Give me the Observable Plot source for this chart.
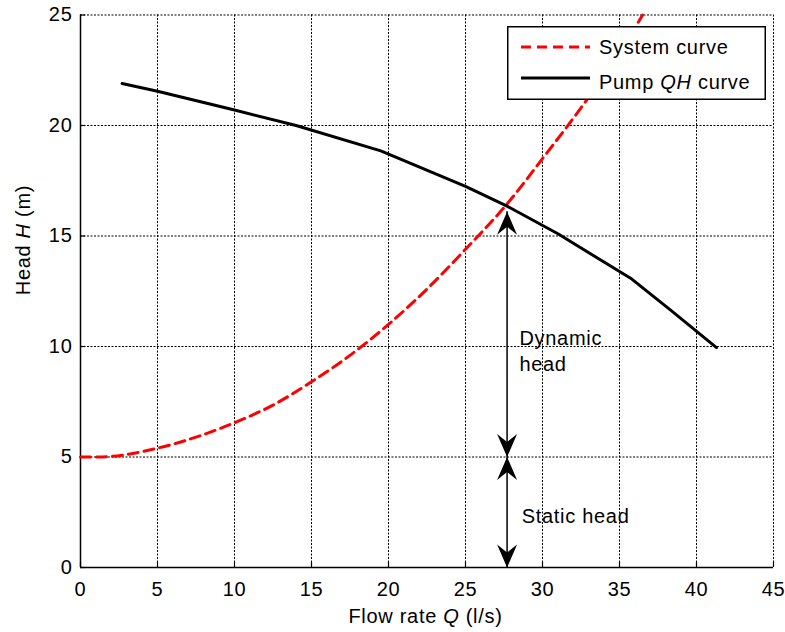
<!DOCTYPE html>
<html>
<head>
<meta charset="utf-8">
<script src="https://cdn.jsdelivr.net/npm/d3@7"></script>
<script src="https://cdn.jsdelivr.net/npm/@observablehq/plot@0.6"></script>
<style>
  body { margin: 0; background: #fff; }
  #chart { position: relative; width: 785px; height: 632px; font-family: "Liberation Sans", Arial, sans-serif; }
  #legend { position: absolute; left: 507px; top: 26px; }
</style>
</head>
<body>
<div id="chart"></div>
<script>
// Flow rate axis (l/s) and head axis (m)
const xTicks = [0, 5, 10, 15, 20, 25, 30, 35, 40, 45];
const yTicks = [0, 5, 10, 15, 20, 25];

// System curve: static head plus friction losses
const sysQ = [0, 1.2, 5, 7.5, 10, 12.5, 15, 17.5, 20, 22.5, 25, 27.7, 30, 32.5, 35, 36.5];
const sysH = [5.0, 5.0, 5.4, 5.9, 6.55, 7.35, 8.4, 9.6, 11.0, 12.6, 14.4, 16.45, 18.5, 20.8, 23.3, 25.0];

// Pump QH curve
const pumpQ = [2.7, 5, 10, 14, 19.5, 25, 27.7, 31, 35.8, 38.4, 41.3];
const pumpH = [21.9, 21.55, 20.7, 20.0, 18.85, 17.25, 16.35, 15.1, 13.05, 11.6, 9.95];

// Operating point arrows: tips and directions
const arrowQ = 27.7;
const arrowTipH = [16.1, 5, 5, 0];
const arrowRotate = [0, 180, 0, 180];

// Annotation texts
const noteText = ["Dynamic\nhead", "Static head"];
const noteQ = [28.5, 28.65];
const noteH = [9.86, 2.4];

const seriesNames = ["System curve", "Pump QH curve"];

const sysData = sysQ.map((q, i) => ({q, h: sysH[i]}));
const pumpData = pumpQ.map((q, i) => ({q, h: pumpH[i]}));
const tipData = arrowTipH.map((h, i) => ({q: arrowQ, h, r: arrowRotate[i]}));
const noteData = noteText.map((t, i) => ({t, q: noteQ[i], h: noteH[i]}));

// Notched arrowhead, tip at the origin, pointing up
const arrowHead = {
  draw(ctx) {
    ctx.moveTo(0, 0);
    ctx.lineTo(10, 23);
    ctx.lineTo(0, 15);
    ctx.lineTo(-10, 23);
    ctx.closePath();
  }
};

const W = 785, H = 632;
const mT = 14.5, mR = 12, mB = 65, mL = 80;
const innerW = W - mL - mR, innerH = H - mT - mB;

const svg = Plot.plot({
  width: W, height: H,
  marginTop: mT, marginRight: mR, marginBottom: mB, marginLeft: mL,
  style: {fontFamily: '"Liberation Sans", Arial, sans-serif', fontSize: "20px", letterSpacing: "0.7px", background: "#fff", color: "#000", overflow: "visible"},
  x: {domain: [0, 45]},
  y: {domain: [0, 25]},
  marks: [
    Plot.gridX(xTicks, {stroke: "#000", strokeOpacity: 1, strokeWidth: 1, strokeDasharray: "2,1.5"}),
    Plot.gridY(yTicks, {stroke: "#000", strokeOpacity: 1, strokeWidth: 1, strokeDasharray: "2,1.5"}),
    Plot.ruleX(xTicks, {stroke: "#000", strokeWidth: 1.2, insetTop: innerH - 5}),
    Plot.ruleY(yTicks, {stroke: "#000", strokeWidth: 1.2, insetRight: innerW - 5}),
    Plot.ruleX([0], {stroke: "#000", strokeWidth: 1.5}),
    Plot.ruleY([0], {stroke: "#000", strokeWidth: 1.5}),
    Plot.axisX(xTicks, {tickSize: 0, tickPadding: 14, fontSize: 20, label: null}),
    Plot.axisY(yTicks, {tickSize: 0, tickPadding: 8, fontSize: 20, label: null}),
    Plot.line(sysData, {x: "q", y: "h", stroke: "#ff0000", strokeWidth: 3, strokeDasharray: "10,6", curve: "monotone-x"}),
    Plot.line(pumpData, {x: "q", y: "h", stroke: "#000", strokeWidth: 3}),
    Plot.ruleX([arrowQ], {y1: 0, y2: arrowTipH[0], stroke: "#000", strokeWidth: 1.5}),
    Plot.dot(tipData, {x: "q", y: "h", rotate: "r", symbol: arrowHead, r: 5, fill: "#000", stroke: null}),
    Plot.text(noteData, {x: "q", y: "h", text: "t", textAnchor: "start", lineAnchor: "middle", lineHeight: 1.3, fontSize: 20, fill: "#000"}),
    Plot.text(["Flow rate Q (l/s)"], {frameAnchor: "bottom", dx: -1.5, dy: 49, lineAnchor: "middle", fontSize: 20, fill: "#000"}),
    Plot.text(["Head H (m)"], {frameAnchor: "left", rotate: -90, dx: -57, dy: 4, lineAnchor: "middle", fontSize: 20, fill: "#000"})
  ]
});

// Italic quantity symbols inside the axis titles
d3.select(svg).selectAll("text").each(function () {
  const s = this.textContent;
  if (s === "Flow rate Q (l/s)") this.innerHTML = 'Flow rate <tspan font-style="italic">Q</tspan> (l/s)';
  if (s === "Head H (m)") this.innerHTML = 'Head <tspan font-style="italic">H</tspan> (m)';
});

const chart = document.getElementById("chart");
chart.appendChild(svg);

// Legend box
const lg = d3.select(chart).append("svg")
  .attr("id", "legend")
  .attr("width", 259).attr("height", 74)
  .style("font-family", '"Liberation Sans", Arial, sans-serif')
  .style("font-size", "20px")
  .style("letter-spacing", "0.7px");
lg.append("rect").attr("x", 0.75).attr("y", 0.75).attr("width", 257.5).attr("height", 72.5)
  .attr("fill", "#fff").attr("stroke", "#000").attr("stroke-width", 1.5);
const rows = [
  {name: seriesNames[0], stroke: "#ff0000", dash: "10,6", y: 21, ty: 28},
  {name: seriesNames[1], stroke: "#000", dash: null, y: 52, ty: 63}
];
rows.forEach(r => {
  lg.append("line").attr("x1", 14).attr("x2", 83).attr("y1", r.y).attr("y2", r.y)
    .attr("stroke", r.stroke).attr("stroke-width", 3).attr("stroke-dasharray", r.dash);
  const t = lg.append("text").attr("x", 92).attr("y", r.ty).attr("fill", "#000");
  if (r.name === "Pump QH curve") {
    t.html('Pump <tspan font-style="italic">QH</tspan> curve');
  } else {
    t.text(r.name);
  }
});
</script>
</body>
</html>
